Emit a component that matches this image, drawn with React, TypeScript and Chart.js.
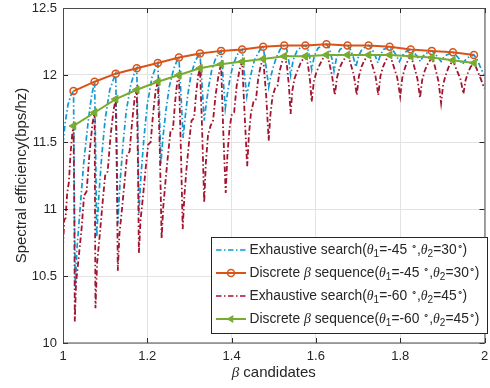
import React, { useEffect, useRef } from 'react';
import { Chart, registerables } from 'chart.js';
Chart.register(...registerables);

const W = 490;
const H = 388;

const xTicks = [1, 1.2, 1.4, 1.6, 1.8, 2];
const xTickLabels = ['1', '1.2', '1.4', '1.6', '1.8', '2'];
const yTicks = [10, 10.5, 11, 11.5, 12, 12.5];
const yTickLabels = ['10', '10.5', '11', '11.5', '12', '12.5'];

// discrete beta sequence
const betaSeq = [1.025, 1.075, 1.125, 1.175, 1.225, 1.275, 1.325, 1.375, 1.425, 1.475,
  1.525, 1.575, 1.625, 1.675, 1.725, 1.775, 1.825, 1.875, 1.925, 1.975];
const discrete45 = [11.88, 11.95, 12.01, 12.05, 12.09, 12.13, 12.16, 12.18, 12.19, 12.21,
  12.22, 12.22, 12.23, 12.22, 12.22, 12.21, 12.19, 12.18, 12.17, 12.15];
const discrete60 = [11.62, 11.72, 11.82, 11.89, 11.95, 12.0, 12.05, 12.08, 12.1, 12.12,
  12.14, 12.14, 12.15, 12.15, 12.15, 12.15, 12.14, 12.13, 12.11, 12.09];

// exhaustive search (theta1=-45, theta2=30): [beta, SE]
const exhaustive45: [number, number][] = [
  [1.0, 11.49], [1.005, 11.64], [1.012, 11.78], [1.019, 11.85], [1.025, 11.88],
  [1.027, 11.0], [1.029, 10.42], [1.033, 10.7], [1.041, 11.02], [1.049, 11.34], [1.06, 11.66], [1.068, 11.85], [1.075, 11.95],
  [1.078, 11.3], [1.08, 10.79], [1.085, 11.1], [1.092, 11.4], [1.1, 11.67], [1.111, 11.89], [1.12, 11.97], [1.125, 12.01],
  [1.128, 11.4], [1.13, 10.89], [1.135, 11.18], [1.142, 11.47], [1.15, 11.73], [1.161, 11.93], [1.17, 12.02], [1.175, 12.05],
  [1.178, 11.5], [1.18, 10.97], [1.185, 11.25], [1.192, 11.53], [1.2, 11.78], [1.211, 11.98], [1.22, 12.06], [1.225, 12.09],
  [1.229, 11.7], [1.232, 11.33], [1.237, 11.53], [1.244, 11.73], [1.252, 11.91], [1.263, 12.05], [1.271, 12.11], [1.275, 12.13],
  [1.28, 11.85], [1.285, 11.53], [1.29, 11.69], [1.296, 11.85], [1.303, 11.99], [1.313, 12.1], [1.32, 12.14], [1.325, 12.16],
  [1.33, 11.92], [1.335, 11.66], [1.34, 11.79], [1.346, 11.92], [1.353, 12.04], [1.363, 12.13], [1.37, 12.16], [1.375, 12.18],
  [1.38, 11.97], [1.385, 11.75], [1.39, 11.86], [1.396, 11.97], [1.403, 12.07], [1.413, 12.15], [1.42, 12.18], [1.425, 12.19],
  [1.43, 12.02], [1.436, 11.84], [1.441, 11.93], [1.447, 12.02], [1.454, 12.11], [1.464, 12.17], [1.47, 12.2], [1.475, 12.21],
  [1.481, 12.08], [1.488, 11.91], [1.493, 11.99], [1.499, 12.06], [1.506, 12.13], [1.515, 12.19], [1.52, 12.21], [1.525, 12.22],
  [1.531, 12.19], [1.536, 12.1], [1.54, 12.0], [1.546, 12.11], [1.555, 12.18], [1.565, 12.21], [1.575, 12.22],
  [1.581, 12.19], [1.586, 12.12], [1.59, 12.04], [1.596, 12.14], [1.605, 12.2], [1.615, 12.22], [1.625, 12.23],
  [1.632, 12.2], [1.638, 12.12], [1.643, 12.03], [1.649, 12.13], [1.657, 12.19], [1.666, 12.21], [1.675, 12.22],
  [1.682, 12.19], [1.689, 12.13], [1.695, 12.06], [1.701, 12.14], [1.709, 12.19], [1.717, 12.21], [1.725, 12.22],
  [1.732, 12.2], [1.74, 12.15], [1.747, 12.09], [1.753, 12.15], [1.76, 12.19], [1.768, 12.2], [1.775, 12.21],
  [1.782, 12.19], [1.79, 12.15], [1.798, 12.1], [1.804, 12.14], [1.811, 12.17], [1.818, 12.18], [1.825, 12.19],
  [1.832, 12.17], [1.84, 12.14], [1.848, 12.1], [1.854, 12.14], [1.861, 12.16], [1.868, 12.17], [1.875, 12.18],
  [1.882, 12.16], [1.89, 12.13], [1.897, 12.1], [1.903, 12.13], [1.91, 12.15], [1.918, 12.16], [1.925, 12.17],
  [1.932, 12.15], [1.94, 12.12], [1.948, 12.08], [1.954, 12.11], [1.961, 12.13], [1.968, 12.14], [1.975, 12.15],
  [1.982, 12.12], [1.99, 12.06], [1.996, 12.02], [2.0, 12.0],
];

// exhaustive search (theta1=-60, theta2=45): [beta, SE]
const exhaustive60: [number, number][] = [
  [1.0, 10.72], [1.003, 10.92], [1.006, 10.93], [1.01, 11.12], [1.014, 11.2], [1.018, 11.42], [1.022, 11.56], [1.025, 11.62],
  [1.027, 10.9], [1.028, 10.16], [1.031, 10.45], [1.036, 10.6], [1.044, 10.85], [1.05, 11.1], [1.056, 11.13], [1.063, 11.42], [1.07, 11.64], [1.075, 11.72],
  [1.076, 11.0], [1.077, 10.26], [1.081, 10.6], [1.087, 10.8], [1.094, 11.05], [1.1, 11.25], [1.106, 11.28], [1.113, 11.55], [1.12, 11.74], [1.125, 11.82],
  [1.128, 11.2], [1.13, 10.54], [1.134, 10.82], [1.14, 11.0], [1.146, 11.2], [1.152, 11.4], [1.158, 11.43], [1.164, 11.65], [1.17, 11.83], [1.175, 11.89],
  [1.178, 11.3], [1.18, 10.67], [1.184, 10.92], [1.19, 11.1], [1.196, 11.3], [1.202, 11.48], [1.208, 11.5], [1.214, 11.72], [1.22, 11.89], [1.225, 11.95],
  [1.23, 11.4], [1.234, 10.78], [1.238, 11.02], [1.243, 11.2], [1.249, 11.4], [1.255, 11.58], [1.261, 11.6], [1.266, 11.8], [1.271, 11.95], [1.275, 12.0],
  [1.28, 11.4], [1.284, 10.85], [1.288, 11.1], [1.293, 11.3], [1.299, 11.5], [1.305, 11.66], [1.311, 11.68], [1.316, 11.87], [1.321, 12.0], [1.325, 12.05],
  [1.33, 11.6], [1.335, 11.05], [1.339, 11.35], [1.344, 11.55], [1.35, 11.62], [1.356, 11.66], [1.362, 11.85], [1.369, 12.0], [1.375, 12.08],
  [1.38, 11.6], [1.386, 11.12], [1.39, 11.4], [1.395, 11.6], [1.4, 11.7], [1.406, 11.72], [1.412, 11.92], [1.419, 12.04], [1.425, 12.1],
  [1.431, 11.7], [1.437, 11.32], [1.441, 11.55], [1.446, 11.72], [1.452, 11.8], [1.458, 11.82], [1.463, 11.97], [1.469, 12.07], [1.475, 12.12],
  [1.482, 11.85], [1.488, 11.51], [1.492, 11.7], [1.497, 11.84], [1.503, 11.9], [1.509, 11.92], [1.514, 12.03], [1.52, 12.1], [1.525, 12.14],
  [1.531, 12.08], [1.536, 11.92], [1.54, 11.71], [1.544, 11.88], [1.549, 11.97], [1.556, 12.03], [1.565, 12.1], [1.575, 12.14],
  [1.581, 12.08], [1.586, 11.96], [1.59, 11.8], [1.595, 11.95], [1.601, 12.02], [1.608, 12.07], [1.616, 12.12], [1.625, 12.15],
  [1.631, 12.1], [1.638, 12.0], [1.645, 11.85], [1.65, 11.98], [1.656, 12.05], [1.663, 12.1], [1.675, 12.15],
  [1.681, 12.1], [1.69, 12.0], [1.697, 11.85], [1.702, 11.99], [1.708, 12.06], [1.715, 12.11], [1.725, 12.15],
  [1.731, 12.1], [1.741, 12.0], [1.748, 11.85], [1.753, 11.99], [1.759, 12.06], [1.766, 12.11], [1.775, 12.15],
  [1.781, 12.1], [1.793, 11.98], [1.8, 11.84], [1.805, 11.98], [1.811, 12.05], [1.817, 12.1], [1.825, 12.14],
  [1.831, 12.09], [1.841, 11.97], [1.847, 11.83], [1.852, 11.96], [1.858, 12.03], [1.865, 12.08], [1.875, 12.13],
  [1.881, 12.08], [1.891, 11.95], [1.897, 11.79], [1.902, 11.93], [1.908, 12.0], [1.915, 12.06], [1.925, 12.11],
  [1.931, 12.06], [1.943, 11.97], [1.95, 11.86], [1.955, 11.96], [1.961, 12.02], [1.967, 12.06], [1.975, 12.09],
  [1.981, 12.05], [1.99, 11.98], [1.996, 11.93], [2.0, 11.9],
];

type Part = [string, 'n' | 'i' | 'sub' | 'sup'];
const legendLabels: Part[][] = [
  [['Exhaustive search(', 'n'], ['θ', 'i'], ['1', 'sub'], ['=-45 ', 'n'], ['∘', 'sup'], [',', 'n'], ['θ', 'i'], ['2', 'sub'], ['=30', 'n'], ['∘', 'sup'], [')', 'n']],
  [['Discrete ', 'n'], ['β', 'i'], [' sequence(', 'n'], ['θ', 'i'], ['1', 'sub'], ['=-45 ', 'n'], ['∘', 'sup'], [',', 'n'], ['θ', 'i'], ['2', 'sub'], ['=30', 'n'], ['∘', 'sup'], [')', 'n']],
  [['Exhaustive search(', 'n'], ['θ', 'i'], ['1', 'sub'], ['=-60 ', 'n'], ['∘', 'sup'], [',', 'n'], ['θ', 'i'], ['2', 'sub'], ['=45', 'n'], ['∘', 'sup'], [')', 'n']],
  [['Discrete ', 'n'], ['β', 'i'], [' sequence(', 'n'], ['θ', 'i'], ['1', 'sub'], ['=-60 ', 'n'], ['∘', 'sup'], [',', 'n'], ['θ', 'i'], ['2', 'sub'], ['=45', 'n'], ['∘', 'sup'], [')', 'n']],
];
const plainLabels = [
  'Exhaustive search(θ1=-45°,θ2=30°)',
  'Discrete β sequence(θ1=-45°,θ2=30°)',
  'Exhaustive search(θ1=-60°,θ2=45°)',
  'Discrete β sequence(θ1=-60°,θ2=45°)',
];
const xTitle: Part[] = [['β', 'i'], [' candidates', 'n']];
const yTitle = 'Spectral efficiency(bps/hz)';

const SANS = '"Liberation Sans", Arial, Helvetica, sans-serif';
const SERIF = '"Liberation Serif", "DejaVu Serif", serif';
const TXT = '#262626';
const BLUE = '#1199d0';
const ORANGE = '#d95319';
const RED = '#a2142f';
const GREEN = '#77ac30';
const DASH = [5.5, 2.5, 1.5, 2.5];

function fontFor(style: string, size: number) {
  if (style === 'i') return `italic ${size}px ${SERIF}`;
  if (style === 'sub' || style === 'sup') return `${Math.round(size * 0.72)}px ${SANS}`;
  return `${size}px ${SANS}`;
}
function richWidth(ctx: CanvasRenderingContext2D, parts: Part[], size: number) {
  let w = 0;
  for (const [t, s] of parts) { ctx.font = fontFor(s, size); w += ctx.measureText(t).width; }
  return w;
}
function drawRich(ctx: CanvasRenderingContext2D, x: number, y: number, parts: Part[], size: number) {
  ctx.textBaseline = 'middle';
  ctx.textAlign = 'left';
  for (const [t, s] of parts) {
    ctx.font = fontFor(s, size);
    const dy = s === 'sub' ? size * 0.32 : s === 'sup' ? -size * 0.3 : 0;
    ctx.fillText(t, x, y + dy);
    x += ctx.measureText(t).width;
  }
}

const decor = {
  id: 'decor',
  afterDraw(chart: any) {
    const { ctx, chartArea: a, scales } = chart;
    ctx.save();
    ctx.setLineDash([]);
    // inward ticks
    ctx.strokeStyle = TXT;
    ctx.lineWidth = 1;
    const tl = 5;
    ctx.beginPath();
    for (const v of xTicks) {
      const px = Math.round(scales.x.getPixelForValue(v)) + 0.5;
      ctx.moveTo(px, a.bottom); ctx.lineTo(px, a.bottom - tl);
      ctx.moveTo(px, a.top); ctx.lineTo(px, a.top + tl);
    }
    for (const v of yTicks) {
      const py = Math.round(scales.y.getPixelForValue(v)) + 0.5;
      ctx.moveTo(a.left, py); ctx.lineTo(a.left + tl, py);
      ctx.moveTo(a.right, py); ctx.lineTo(a.right - tl, py);
    }
    ctx.stroke();
    // box
    ctx.strokeStyle = '#4a4a4a';
    ctx.strokeRect(a.left + 0.5, a.top + 0.5, a.right - a.left, a.bottom - a.top - 0.5);

    // legend
    const lx0 = 211.5, ly0 = 237.5, lx1 = 487.5, ly1 = 333.5;
    ctx.fillStyle = '#ffffff';
    ctx.fillRect(lx0, ly0, lx1 - lx0, ly1 - ly0);
    ctx.strokeStyle = TXT;
    ctx.lineWidth = 1;
    ctx.strokeRect(lx0, ly0, lx1 - lx0, ly1 - ly0);
    const rows = [250, 273, 296, 319];
    const colors = [BLUE, ORANGE, RED, GREEN];
    rows.forEach((ry, i) => {
      const c = colors[i];
      ctx.strokeStyle = c;
      ctx.lineWidth = i % 2 === 0 ? 1.7 : 2;
      ctx.setLineDash(i % 2 === 0 ? DASH : []);
      ctx.beginPath(); ctx.moveTo(216, ry); ctx.lineTo(246, ry); ctx.stroke();
      ctx.setLineDash([]);
      if (i === 1) {
        ctx.lineWidth = 1.5;
        ctx.beginPath(); ctx.arc(231, ry, 3.5, 0, Math.PI * 2); ctx.stroke();
      } else if (i === 3) {
        ctx.fillStyle = c;
        ctx.beginPath();
        ctx.moveTo(226.5, ry); ctx.lineTo(233.3, ry - 3.9); ctx.lineTo(233.3, ry + 3.9); ctx.closePath();
        ctx.fill();
      }
      ctx.fillStyle = TXT;
      drawRich(ctx, 249.5, ry, legendLabels[i], 13.8);
    });

    // axis titles
    ctx.fillStyle = TXT;
    const tw = richWidth(ctx, xTitle, 15);
    drawRich(ctx, (a.left + a.right) / 2 - tw / 2, 373, xTitle, 15);
    ctx.save();
    ctx.translate(21.5, (a.top + a.bottom) / 2);
    ctx.rotate(-Math.PI / 2);
    ctx.font = `15px ${SANS}`;
    ctx.textAlign = 'center';
    ctx.textBaseline = 'middle';
    ctx.fillText(yTitle, 0, 0);
    ctx.restore();
    ctx.restore();
  },
};

export default function App() {
  const ref = useRef<HTMLCanvasElement>(null);
  useEffect(() => {
    const canvas = ref.current!;
    const chart = new Chart(canvas, {
      type: 'line',
      data: {
        datasets: [
          {
            label: plainLabels[0],
            data: exhaustive45.map(([x, y]) => ({ x, y })),
            borderColor: BLUE, borderWidth: 1.7, borderDash: DASH,
            pointRadius: 0, tension: 0, order: 4,
          },
          {
            label: plainLabels[1],
            data: betaSeq.map((x, i) => ({ x, y: discrete45[i] })),
            borderColor: ORANGE, borderWidth: 2,
            pointStyle: 'circle', pointRadius: 3.5, pointBorderWidth: 1.5,
            pointBorderColor: ORANGE, pointBackgroundColor: 'rgba(255,255,255,0)',
            tension: 0, order: 3,
          },
          {
            label: plainLabels[2],
            data: exhaustive60.map(([x, y]) => ({ x, y })),
            borderColor: RED, borderWidth: 1.8, borderDash: DASH,
            pointRadius: 0, tension: 0, order: 2,
          },
          {
            label: plainLabels[3],
            data: betaSeq.map((x, i) => ({ x, y: discrete60[i] })),
            borderColor: GREEN, borderWidth: 2,
            pointStyle: 'triangle', rotation: -90, pointRadius: 4.5, pointBorderWidth: 1,
            pointBorderColor: GREEN, pointBackgroundColor: GREEN,
            tension: 0, order: 1,
          },
        ] as any,
      },
      options: {
        animation: false,
        responsive: false,
        devicePixelRatio: 1,
        events: [],
        layout: { padding: { top: 8, right: 1, left: 0, bottom: 0 } },
        plugins: { legend: { display: false }, tooltip: { enabled: false } },
        scales: {
          x: {
            type: 'linear', min: 1, max: 2,
            afterBuildTicks: (s: any) => { s.ticks = xTicks.map((v) => ({ value: v })); },
            afterFit: (s: any) => { s.height = 45; s.paddingLeft = 0; s.paddingRight = 0; },
            ticks: {
              callback: (_v: any, i: number) => xTickLabels[i],
              font: { family: SANS, size: 13 }, color: TXT, padding: 6, maxRotation: 0, autoSkip: false,
            },
            grid: { color: '#e3e3e3', lineWidth: 1, drawTicks: false },
            border: { display: false },
          },
          y: {
            type: 'linear', min: 10, max: 12.5,
            afterBuildTicks: (s: any) => { s.ticks = yTicks.map((v) => ({ value: v })); },
            afterFit: (s: any) => { s.width = 63; s.paddingTop = 0; s.paddingBottom = 0; },
            ticks: {
              callback: (_v: any, i: number) => yTickLabels[i],
              font: { family: SANS, size: 13 }, color: TXT, padding: 6, autoSkip: false,
            },
            grid: { color: '#e3e3e3', lineWidth: 1, drawTicks: false },
            border: { display: false },
          },
        },
      } as any,
      plugins: [decor],
    });
    return () => chart.destroy();
  }, []);
  return (
    <div style={{ position: 'absolute', left: 0, top: 0, width: W, height: H, background: '#fff' }}>
      <canvas ref={ref} width={W} height={H} style={{ display: 'block', width: W, height: H }} />
    </div>
  );
}
